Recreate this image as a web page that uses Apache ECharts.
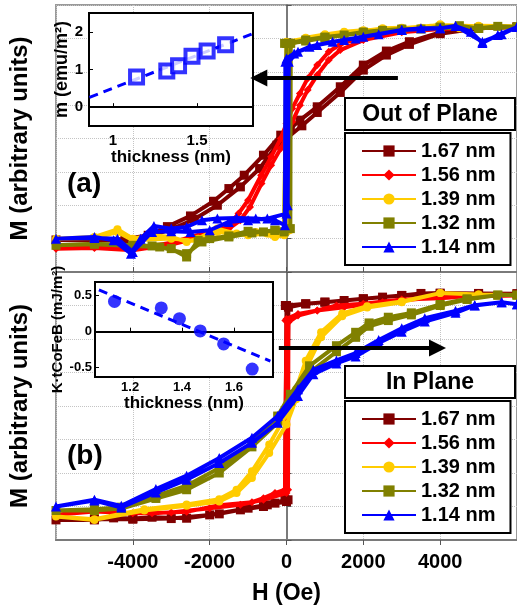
<!DOCTYPE html>
<html>
<head>
<meta charset="utf-8">
<script src="https://cdn.jsdelivr.net/npm/echarts@6/dist/echarts.min.js"></script>
<style>
  html, body { margin: 0; padding: 0; background: #fff; }
  #chart { width: 517px; height: 609px; }
</style>
</head>
<body>
<div id="chart"></div>
<script>
// legend names, top to bottom
const thicknessNames = ['1.67 nm', '1.56 nm', '1.39 nm', '1.32 nm', '1.14 nm'];

// (a) out of plane loops, [H (Oe), M]; descending branch then ascending branch
const oop167 = [
  [6000, 7.34], [5000, 7.3], [4000, 7.18], [3200, 6.9], [2600, 6.62], [2000, 6.2], [1400, 5.55], [800, 4.95],
  [350, 4.55], [100, 4.3], [-150, 4.1], [-600, 3.5], [-1100, 2.9], [-1500, 2.5], [-1900, 2.12], [-2500, 1.68],
  [-3100, 1.36], [-3600, 1.1], [-4200, 0.98], [-5000, 0.98], [-6000, 0.96],
  [-5000, 0.95], [-4200, 0.94], [-3500, 1.1], [-3000, 1.28], [-2400, 1.58], [-1800, 2.0], [-1200, 2.55],
  [-700, 3.1], [-250, 3.8], [0, 4.0], [400, 4.38], [800, 4.78], [1400, 5.38], [2000, 6.05], [2600, 6.5],
  [3200, 6.82], [4000, 7.14], [5000, 7.3], [6000, 7.34]
];
const oop156 = [
  [6000, 7.34], [5000, 7.33], [4000, 7.3], [3000, 7.22], [2000, 7.05], [1400, 6.82], [1100, 6.6], [800, 6.2],
  [550, 5.8], [350, 5.35], [150, 4.9], [0, 4.45], [-150, 4.0], [-400, 3.45], [-660, 2.9], [-1000, 2.15],
  [-1250, 1.75], [-1500, 1.4], [-2200, 1.15], [-3000, 0.88], [-4000, 0.68], [-5000, 0.74], [-6000, 0.7],
  [-5000, 0.72], [-4000, 0.65], [-3000, 0.82], [-2200, 1.05], [-1500, 1.3], [-1200, 1.55], [-950, 1.95],
  [-650, 2.65], [-400, 3.2], [-150, 3.7], [0, 4.05], [150, 4.5], [350, 5.0], [550, 5.45], [800, 5.9],
  [1100, 6.35], [1400, 6.65], [2000, 6.95], [3000, 7.18], [4000, 7.28], [5000, 7.32], [6000, 7.34]
];
const oop139 = [
  [6000, 7.36], [5000, 7.38], [4500, 7.3], [4000, 7.42], [3500, 7.32], [3000, 7.32], [2500, 7.3], [2000, 7.22],
  [1500, 7.18], [1000, 7.1], [500, 7.0], [0, 6.9], [-40, 6.85], [-60, 1.1], [-300, 1.05], [-800, 1.2],
  [-1300, 1.15], [-1800, 1.3], [-2300, 1.0], [-2600, 0.9], [-3000, 1.05], [-3500, 1.1], [-4000, 1.0],
  [-4400, 1.28], [-5000, 1.05], [-6000, 1.0],
  [-5000, 1.02], [-4400, 1.2], [-4000, 0.95], [-3000, 1.0], [-2300, 0.92], [-1800, 1.2], [-1000, 1.1],
  [-500, 1.15], [0, 1.2], [80, 1.25], [100, 6.8], [500, 7.02], [1000, 7.12], [1500, 7.2], [2000, 7.24],
  [3000, 7.3], [4000, 7.4], [5000, 7.36], [6000, 7.36]
];
const oop132 = [
  [6000, 7.34], [5500, 7.36], [5000, 7.3], [4500, 7.38], [4000, 7.34], [3500, 7.28], [3000, 7.28], [2500, 7.24],
  [2000, 7.19], [1500, 7.1], [1000, 7.04], [500, 6.95], [0, 6.85], [-50, 6.85], [-60, 1.2], [-300, 1.25],
  [-600, 1.2], [-1000, 1.22], [-1500, 1.08], [-2000, 1.0], [-2300, 0.95], [-2600, 0.45], [-3000, 0.7],
  [-3500, 0.78], [-4000, 0.8], [-5000, 0.85], [-6000, 0.8],
  [-5000, 0.83], [-4000, 0.78], [-3300, 0.75], [-2600, 0.55], [-2200, 0.9], [-1500, 1.05], [-900, 1.17],
  [-300, 1.25], [0, 1.3], [100, 1.3], [110, 6.85], [500, 6.92], [1000, 7.02], [2000, 7.17], [3000, 7.26],
  [4000, 7.32], [5000, 7.3], [6000, 7.34]
];
const oop114 = [
  [6000, 7.34], [5500, 7.1], [5100, 6.86], [4800, 7.2], [4400, 7.37], [4000, 7.3], [3500, 7.3], [3000, 7.25],
  [2400, 7.12], [1800, 7.0], [1200, 6.9], [600, 6.75], [200, 6.55], [0, 6.4], [-30, 6.3], [-40, 1.4],
  [-300, 1.55], [-800, 1.6], [-1300, 1.62], [-1800, 1.6], [-2200, 1.55], [-2600, 1.35], [-3000, 1.3],
  [-3450, 1.38], [-3800, 1.0], [-4050, 0.55], [-4500, 0.95], [-5000, 1.05], [-6000, 1.0],
  [-5000, 1.02], [-4400, 1.0], [-4000, 0.6], [-3500, 1.2], [-3000, 1.22], [-2500, 1.2], [-2000, 1.25],
  [-1500, 1.5], [-1000, 1.55], [-500, 1.6], [0, 1.75], [30, 2.0], [60, 6.3], [300, 6.6], [800, 6.8],
  [1500, 6.95], [2000, 7.05], [3000, 7.25], [4000, 7.3], [4400, 7.37], [5100, 6.9], [5600, 7.12], [6000, 7.34]
];

// (b) in plane loops
const ip167 = [
  [6000, 7.35], [5000, 7.36], [4000, 7.37], [3500, 7.36], [3000, 7.3], [2500, 7.25], [2000, 7.2], [1500, 7.15],
  [1000, 7.1], [500, 7.05], [0, 7.0], [-30, 7.0], [-40, 1.2], [-300, 1.1], [-600, 1.0], [-1200, 0.9],
  [-1750, 0.78], [-2600, 0.65], [-3500, 0.68], [-4000, 0.64], [-4500, 0.66], [-5000, 0.6], [-6000, 0.6],
  [-5000, 0.62], [-4000, 0.62], [-3000, 0.64], [-2000, 0.75], [-1000, 0.95], [-500, 1.05], [0, 1.15],
  [40, 1.2], [50, 6.95], [500, 7.05], [1000, 7.1], [2000, 7.2], [3000, 7.3], [4000, 7.35], [5000, 7.35], [6000, 7.35]
];
const ip156 = [
  [6000, 7.3], [5000, 7.3], [4000, 7.22], [3000, 7.18], [2000, 7.05], [1300, 7.0], [800, 6.85], [300, 6.75],
  [0, 6.6], [-30, 6.55], [-40, 1.5], [-300, 1.4], [-600, 1.25], [-900, 1.13], [-1750, 1.04], [-2600, 0.84],
  [-3500, 0.8], [-4500, 0.8], [-5000, 0.9], [-6000, 0.75],
  [-5000, 0.85], [-4000, 0.8], [-3000, 0.82], [-2000, 0.95], [-1200, 1.05], [-600, 1.2], [0, 1.4],
  [40, 1.5], [50, 6.5], [300, 6.7], [800, 6.85], [1500, 6.95], [2500, 7.1], [4000, 7.25], [6000, 7.3]
];
const ip139 = [
  [6000, 7.31], [5000, 7.33], [4000, 7.37], [3000, 7.12], [2100, 6.98], [1450, 6.76], [900, 6.2], [500, 5.35],
  [250, 4.5], [0, 3.75], [-450, 2.85], [-900, 2.05], [-1300, 1.5], [-1750, 1.22], [-2600, 1.06], [-3700, 0.92],
  [-5000, 0.62], [-6000, 0.7],
  [-5000, 0.6], [-3700, 0.88], [-2600, 1.02], [-1750, 1.15], [-1300, 1.4], [-900, 1.85], [-450, 2.6],
  [0, 3.45], [250, 4.2], [500, 5.1], [900, 6.05], [1450, 6.68], [2100, 6.94], [3000, 7.1], [4000, 7.37],
  [5000, 7.33], [6000, 7.31]
];
const ip132 = [
  [6000, 7.31], [5500, 7.31], [4700, 7.2], [4000, 7.03], [3250, 6.78], [2650, 6.65], [2150, 6.48], [1800, 6.2],
  [1300, 5.8], [600, 5.2], [100, 4.35], [-230, 3.7], [-900, 2.9], [-1750, 2.15], [-2600, 1.62], [-3400, 1.32],
  [-4300, 0.98], [-5000, 0.92], [-6000, 0.88],
  [-5000, 0.88], [-4300, 0.94], [-3400, 1.24], [-2600, 1.5], [-1750, 2.0], [-900, 2.78], [-230, 3.5],
  [100, 4.15], [600, 5.0], [1300, 5.62], [1800, 6.05], [2150, 6.38], [2650, 6.55], [3250, 6.72], [4000, 7.0],
  [4700, 7.18], [5500, 7.31], [6000, 7.31]
];
const ip114 = [
  [6000, 7.04], [5600, 7.1], [4900, 7.01], [4400, 6.84], [3600, 6.62], [3000, 6.32], [2400, 5.97], [1800, 5.58],
  [1300, 5.36], [700, 5.08], [300, 4.5], [-230, 3.7], [-900, 3.05], [-1750, 2.45], [-2600, 1.92], [-3400, 1.52],
  [-4300, 1.02], [-5000, 1.2], [-6000, 1.0],
  [-5000, 1.18], [-4300, 0.97], [-3400, 1.42], [-2600, 1.8], [-1750, 2.3], [-900, 2.9], [-230, 3.5],
  [300, 4.3], [700, 4.95], [1300, 5.27], [1800, 5.48], [2400, 5.88], [3000, 6.22], [3600, 6.52], [4400, 6.78],
  [4900, 7.0], [5600, 7.1], [6000, 7.04]
];

// inset (a): moment vs thickness
const momentThickness = [1.14, 1.32, 1.39, 1.47, 1.56, 1.67];
const momentValues = [0.8, 0.96, 1.1, 1.35, 1.49, 1.66];
const momentFit = [[0.86, 0.26], [1.83, 1.95]];
// inset (b): K*t vs thickness
const anisoThickness = [1.14, 1.32, 1.39, 1.47, 1.56, 1.67];
const anisoValues = [0.42, 0.33, 0.18, 0.01, -0.17, -0.52];
const anisoFit = [[1.08, 0.58], [1.74, -0.41]];

// arrows [H, M] start -> end
const arrowA = [[2900, 5.81], [-720, 5.81]];
const arrowB = [[-200, 5.73], [3930, 5.73]];

const FONT = 'Liberation Sans';
const colors = ['#800000', '#ff0000', '#ffcc00', '#808000', '#0000ff'];
const symbols = ['rect', 'diamond', 'circle', 'rect', 'triangle'];
const symbolSizes = [9, 8, 8, 9, 10];

function loopSeries(data, i, axis) {
  return {
    name: thicknessNames[i],
    type: 'line',
    xAxisIndex: axis,
    yAxisIndex: axis,
    data: data,
    symbol: symbols[i],
    symbolSize: symbolSizes[i],
    showAllSymbol: true,
    lineStyle: { width: 4, color: colors[i] },
    itemStyle: { color: colors[i] },
    z: 2 + i * 0.1
  };
}

function arrowSeries(pts, axis) {
  return {
    type: 'line',
    xAxisIndex: axis,
    yAxisIndex: axis,
    data: [],
    silent: true,
    z: 4,
    markLine: {
      silent: true,
      symbol: ['none', 'triangle'],
      symbolSize: 17,
      label: { show: false },
      lineStyle: { color: '#000', width: 4, type: 'solid' },
      data: [[{ coord: pts[0] }, { coord: pts[1] }]]
    }
  };
}

const splitDotted = { show: true, lineStyle: { color: '#c4c4c4', type: 'dotted', width: 1 } };
const grayLine = { show: true, lineStyle: { color: '#7a7a7a', width: 2 } };

function mainX(grid, showLabels) {
  return {
    type: 'value', gridIndex: grid, min: -6000, max: 6000, interval: 2000,
    axisLine: grayLine,
    axisTick: { show: true, inside: !showLabels, length: 5, lineStyle: { color: '#555' } },
    axisLabel: {
      show: showLabels, showMinLabel: false, showMaxLabel: false, margin: 12,
      formatter: v => String(v),
      color: '#000', fontFamily: FONT, fontWeight: 'bold', fontSize: 20
    },
    splitLine: splitDotted,
    name: showLabels ? 'H (Oe)' : '',
    nameLocation: 'middle', nameGap: 42,
    nameTextStyle: { color: '#000', fontFamily: FONT, fontWeight: 'bold', fontSize: 23 }
  };
}
function mainY(grid) {
  return {
    type: 'value', gridIndex: grid, min: 0, max: 8, interval: 1,
    axisLine: grayLine,
    axisTick: { show: true, inside: true, length: 5, lineStyle: { color: '#555' } },
    axisLabel: { show: false },
    splitLine: splitDotted,
    name: 'M (arbitrary units)', nameLocation: 'middle', nameGap: 24,
    nameTextStyle: { color: '#000', fontFamily: FONT, fontWeight: 'bold', fontSize: 24 }
  };
}
const blackLine = { show: true, lineStyle: { color: '#000', width: 2 } };
function insetAxis(grid, opts, fontSize, nameSize) {
  return Object.assign({
    type: 'value', gridIndex: grid, z: 6,
    axisLine: blackLine,
    splitLine: { show: false },
    axisTick: { show: true, inside: true, length: 4, lineStyle: { color: '#000', width: 1.5 } },
    nameLocation: 'middle',
    nameTextStyle: { color: '#000', fontFamily: FONT, fontWeight: 'bold', fontSize: nameSize }
  }, opts, {
    axisLabel: Object.assign({ color: '#000', fontFamily: FONT, fontWeight: 'bold', fontSize: fontSize }, opts.axisLabel)
  });
}

const legendBase = {
  orient: 'vertical', left: 345, width: 170,
  data: thicknessNames,
  itemWidth: 54, itemHeight: 14, itemGap: 4, itemTextGap: 7,
  padding: [8, 15, 8, 16],
  backgroundColor: '#fff', borderColor: '#000', borderWidth: 2,
  textStyle: { color: '#000', fontFamily: FONT, fontWeight: 'bold', fontSize: 20, lineHeight: 20 },
  selectedMode: false, z: 10
};

const option = {
  animation: false,
  backgroundColor: '#fff',
  textStyle: { fontFamily: FONT },
  grid: [
    { left: 51, top: 5, width: 471, height: 267, show: true, borderColor: '#9a9a9a', borderWidth: 2 },
    { left: 51, top: 272, width: 471, height: 268, show: true, borderColor: '#9a9a9a', borderWidth: 2 },
    { left: 89, top: 13, width: 164, height: 113, show: true, backgroundColor: '#fff', borderColor: '#000', borderWidth: 2, z: 5 },
    { left: 95, top: 282, width: 178, height: 95, show: true, backgroundColor: '#fff', borderColor: '#000', borderWidth: 2, z: 5 }
  ],
  xAxis: [
    mainX(0, false),
    mainX(1, true),
    insetAxis(2, {
      min: 0.857, max: 1.833, name: 'thickness (nm)', nameGap: 17,
      axisTick: { show: true, inside: true, length: 4, customValues: [1, 1.5], lineStyle: { color: '#000' } },
      axisLabel: { customValues: [1, 1.5], margin: 7 }
    }, 15, 17),
    insetAxis(3, {
      min: 1.065, max: 1.75, name: 'thickness (nm)', nameGap: 16,
      axisTick: { show: true, inside: true, length: 4, customValues: [1.2, 1.4, 1.6], lineStyle: { color: '#000' } },
      axisLabel: { customValues: [1.2, 1.4, 1.6], margin: 4, formatter: v => v.toFixed(1) }
    }, 13, 17)
  ],
  yAxis: [
    mainY(0),
    mainY(1),
    insetAxis(2, {
      min: -0.5, max: 2.5, name: 'm (emu/m²)', nameGap: 12,
      axisTick: { show: true, inside: true, length: 4, customValues: [0, 1, 2], lineStyle: { color: '#000' } },
      axisLabel: { customValues: [0, 1, 2], margin: 6 }
    }, 15, 18),
    insetAxis(3, {
      min: -0.63, max: 0.69, name: 'K·tCoFeB (mJ/m²)', nameGap: 27,
      axisTick: { show: true, inside: true, length: 4, customValues: [-0.5, 0, 0.5], lineStyle: { color: '#000' } },
      axisLabel: { customValues: [-0.5, 0, 0.5], margin: 3 }
    }, 13, 15)
  ],
  legend: [
    Object.assign({ top: 133 }, legendBase),
    Object.assign({ top: 401 }, legendBase)
  ],
  graphic: [
    { type: 'rect', shape: { x: 345, y: 98, width: 170, height: 32 }, style: { fill: '#fff', stroke: '#000', lineWidth: 2 }, z: 10 },
    { type: 'text', x: 430, y: 115, z: 11, style: { text: 'Out of Plane', fill: '#000', font: 'bold 23px "Liberation Sans"', align: 'center', verticalAlign: 'middle' } },
    { type: 'rect', shape: { x: 345, y: 366, width: 170, height: 32 }, style: { fill: '#fff', stroke: '#000', lineWidth: 2 }, z: 10 },
    { type: 'text', x: 430, y: 383, z: 11, style: { text: 'In Plane', fill: '#000', font: 'bold 23px "Liberation Sans"', align: 'center', verticalAlign: 'middle' } },
    { type: 'text', x: 67, y: 184, z: 11, style: { text: '(a)', fill: '#000', font: 'bold 28px "Liberation Sans"', align: 'left', verticalAlign: 'middle' } },
    { type: 'text', x: 67, y: 456, z: 11, style: { text: '(b)', fill: '#000', font: 'bold 28px "Liberation Sans"', align: 'left', verticalAlign: 'middle' } }
  ],
  series: [
    loopSeries(oop167, 0, 0),
    loopSeries(oop156, 1, 0),
    loopSeries(oop139, 2, 0),
    loopSeries(oop132, 3, 0),
    loopSeries(oop114, 4, 0),
    loopSeries(ip167, 0, 1),
    loopSeries(ip156, 1, 1),
    loopSeries(ip139, 2, 1),
    loopSeries(ip132, 3, 1),
    loopSeries(ip114, 4, 1),
    arrowSeries(arrowA, 0),
    arrowSeries(arrowB, 1),
    {
      type: 'line', xAxisIndex: 2, yAxisIndex: 2, z: 7,
      data: momentFit, symbol: 'none',
      lineStyle: { color: '#0000ff', width: 3, type: [9, 6] }
    },
    {
      type: 'scatter', xAxisIndex: 2, yAxisIndex: 2, z: 8,
      data: momentThickness.map((t, i) => [t, momentValues[i]]),
      symbol: 'rect', symbolSize: 13,
      itemStyle: { color: '#fff', borderColor: '#0000ff', borderWidth: 4 }
    },
    {
      type: 'line', xAxisIndex: 3, yAxisIndex: 3, z: 7,
      data: anisoFit, symbol: 'none',
      lineStyle: { color: '#0000ff', width: 3, type: [9, 6] }
    },
    {
      type: 'scatter', xAxisIndex: 3, yAxisIndex: 3, z: 8,
      data: anisoThickness.map((t, i) => [t, anisoValues[i]]),
      symbol: 'circle', symbolSize: 13,
      itemStyle: { color: '#0000ff' }
    }
  ]
};

const myChart = echarts.init(document.getElementById('chart'));
myChart.setOption(option);
window.addEventListener('resize', function () {
  myChart.resize();
});
</script>
</body>
</html>
